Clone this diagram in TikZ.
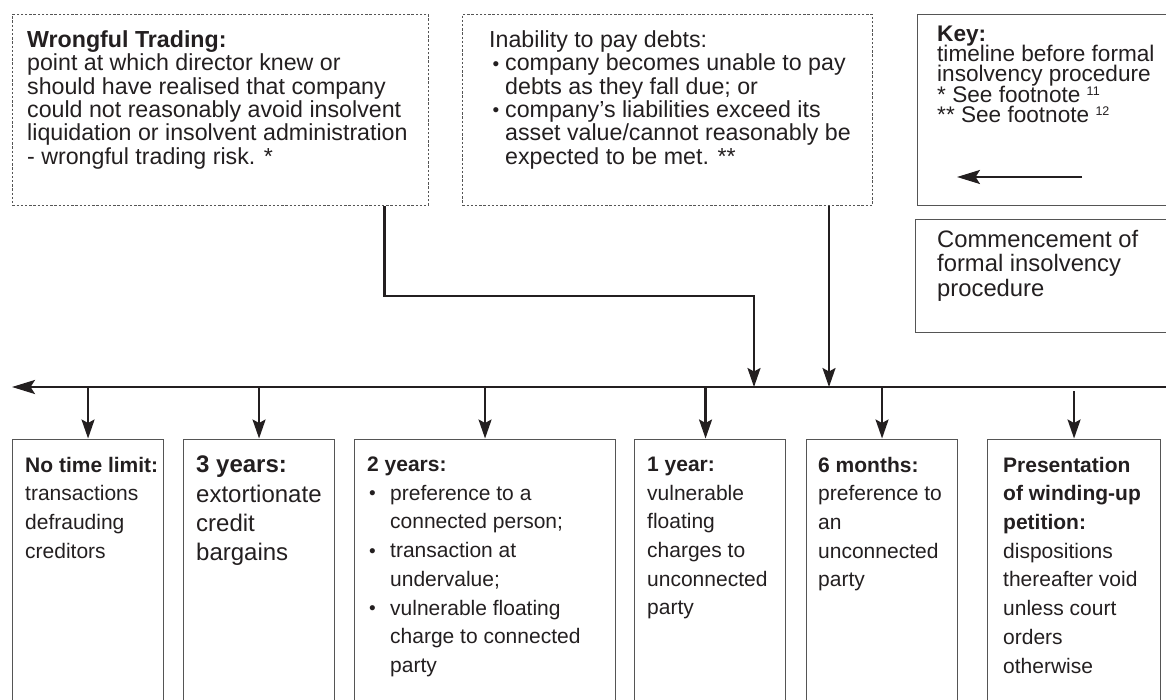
\documentclass[tikz,border=0pt]{standalone}
\usepackage{fontspec}
\setmainfont{Liberation Sans}
\usetikzlibrary{arrows.meta}

\definecolor{ink}{HTML}{231F20}
\definecolor{rule}{HTML}{555555}

\newcommand{\bul}{\raisebox{0.5pt}{\fontsize{19}{19}\selectfont\textbullet}}
\newcommand{\tightlines}{\lineskiplimit=-30pt\relax}
\newcommand{\fnref}[1]{\raisebox{6.5pt}{\fontsize{12.5}{12.5}\selectfont #1}}

\begin{document}
\begin{tikzpicture}[x=1pt,y=-1pt,
  frame/.style={draw=rule, line width=1.1pt, anchor=north west, inner sep=0pt},
  dotframe/.style={draw=rule, line width=0.9pt, dash pattern=on 2.4pt off 1.8pt, anchor=north west, inner sep=0pt},
  link/.style={draw=ink, line width=2.3pt},
  arrowed/.style={-{Stealth[length=19pt,width=13pt,inset=3.5pt]}},
  longarrow/.style={-{Stealth[length=23pt,width=14pt,inset=4.5pt]}},
  txt/.style={anchor=north west, inner sep=0pt, align=left, text=ink},
  toptext/.style={txt, font=\fontsize{23.2}{23.3}\selectfont},
  keytext/.style={txt, font={\fontsize{22.6}{20.3}\selectfont\tightlines}},
  bottext/.style={txt, font=\fontsize{21}{28.7}\selectfont},
]
\useasboundingbox (0,0) rectangle (1166,700);
\clip (0,0) rectangle (1166,700);

% --- upper boxes ---------------------------------------------------------
\node[dotframe, minimum width=416pt, minimum height=191pt] (bA) at (12,14) {};
\node[dotframe, minimum width=410pt, minimum height=191pt] (bB) at (462,14) {};
\node[frame, minimum width=258pt, minimum height=191pt] (key) at (917,14) {};
\node[frame, minimum width=260pt, minimum height=113pt] (comm) at (915,219) {};

\node[toptext] (tA) at (27,30.5) {\textbf{Wrongful Trading:}\\
  point at which director knew or\\
  should have realised that company\\
  could not reasonably avoid insolvent\\
  liquidation or insolvent administration\\
  - wrongful trading risk. *};

\node[toptext] (tB) at (489,30.5) {Inability to pay debts:\\
  \makebox[16pt][l]{\hspace{3.5pt}\bul}company becomes unable to pay\\
  \hspace*{16pt}debts as they fall due; or\\
  \makebox[16pt][l]{\hspace{3.5pt}\bul}company’s liabilities exceed its\\
  \hspace*{16pt}asset value/cannot reasonably be\\
  \hspace*{16pt}expected to be met. **};

\node[keytext] (tK) at (937,25.5) {\textbf{Key:}\\
  timeline before formal\\
  insolvency procedure\\
  * See footnote \fnref{11}\\
  ** See footnote \fnref{12}};
\coordinate (kR) at (1082,177);
\coordinate (kL) at (957,177);
\draw[link, longarrow] (kR) -- (kL);

\node[txt, font=\fontsize{23.8}{24.5}\selectfont] (tC) at (937,230) {Commencement of\\
  formal insolvency\\
  procedure};

% --- timeline ------------------------------------------------------------
\coordinate (tlR) at (1172,387);
\coordinate (tlL) at (12,387);
\draw[link, line width=2.5pt, longarrow] (tlR) -- (tlL);
\coordinate (jA) at (754,387);
\coordinate (jB) at (829,387);

\draw[link, arrowed] ([xshift=164pt]bA.south) -- ++(0,90) -| (jA);
\draw[link, arrowed] (bB.south -| jB) -- (jB);

% --- lower boxes ---------------------------------------------------------
\node[frame, minimum width=151pt, minimum height=300pt] (p1) at (12,438.5) {};
\node[frame, minimum width=151pt, minimum height=300pt] (p2) at (183,438.5) {};
\node[frame, minimum width=261pt, minimum height=300pt] (p3) at (354,438.5) {};
\node[frame, minimum width=151pt, minimum height=300pt] (p4) at (634,438.5) {};
\node[frame, minimum width=151pt, minimum height=300pt] (p5) at (806,438.5) {};
\node[frame, minimum width=173pt, minimum height=300pt] (p6) at (987,438.5) {};

\foreach \b in {p1,p2,p3,p5}
  \draw[link, arrowed] (\b.north |- tlL) -- (\b.north);
\draw[link, arrowed] ([xshift=-4.5pt]p4.north |- tlL) -- ([xshift=-4.5pt]p4.north);
\draw[link, arrowed, shorten <=4pt] (p6.north |- tlL) -- (p6.north);

\node[bottext] (q1) at (25,456.7) {\textbf{No time limit:}\\
  transactions\\ defrauding\\ creditors};

\node[txt, font=\fontsize{24}{29.1}\selectfont] (q2) at (196,456) {\textbf{3 years:}\\
  extortionate\\ credit\\ bargains};

\node[bottext] (q3) at (367,456.7) {\textbf{2 years:}\\
  \makebox[23pt][l]{\hspace{2pt}\bul}preference to a\\
  \hspace*{23pt}connected person;\\
  \makebox[23pt][l]{\hspace{2pt}\bul}transaction at\\
  \hspace*{23pt}undervalue;\\
  \makebox[23pt][l]{\hspace{2pt}\bul}vulnerable floating\\
  \hspace*{23pt}charge to connected\\
  \hspace*{23pt}party};

\node[bottext] (q4) at (647,456.7) {\textbf{1 year:}\\
  vulnerable\\ floating\\ charges to\\ unconnected\\ party};

\node[bottext] (q5) at (818,456.7) {\textbf{6 months:}\\
  preference to\\ an\\ unconnected\\ party};

\node[bottext] (q6) at (1003,456.7) {\textbf{Presentation}\\
  \textbf{of winding-up}\\ \textbf{petition:}\\
  dispositions\\ thereafter void\\ unless court\\ orders\\ otherwise};
\end{tikzpicture}
\end{document}
